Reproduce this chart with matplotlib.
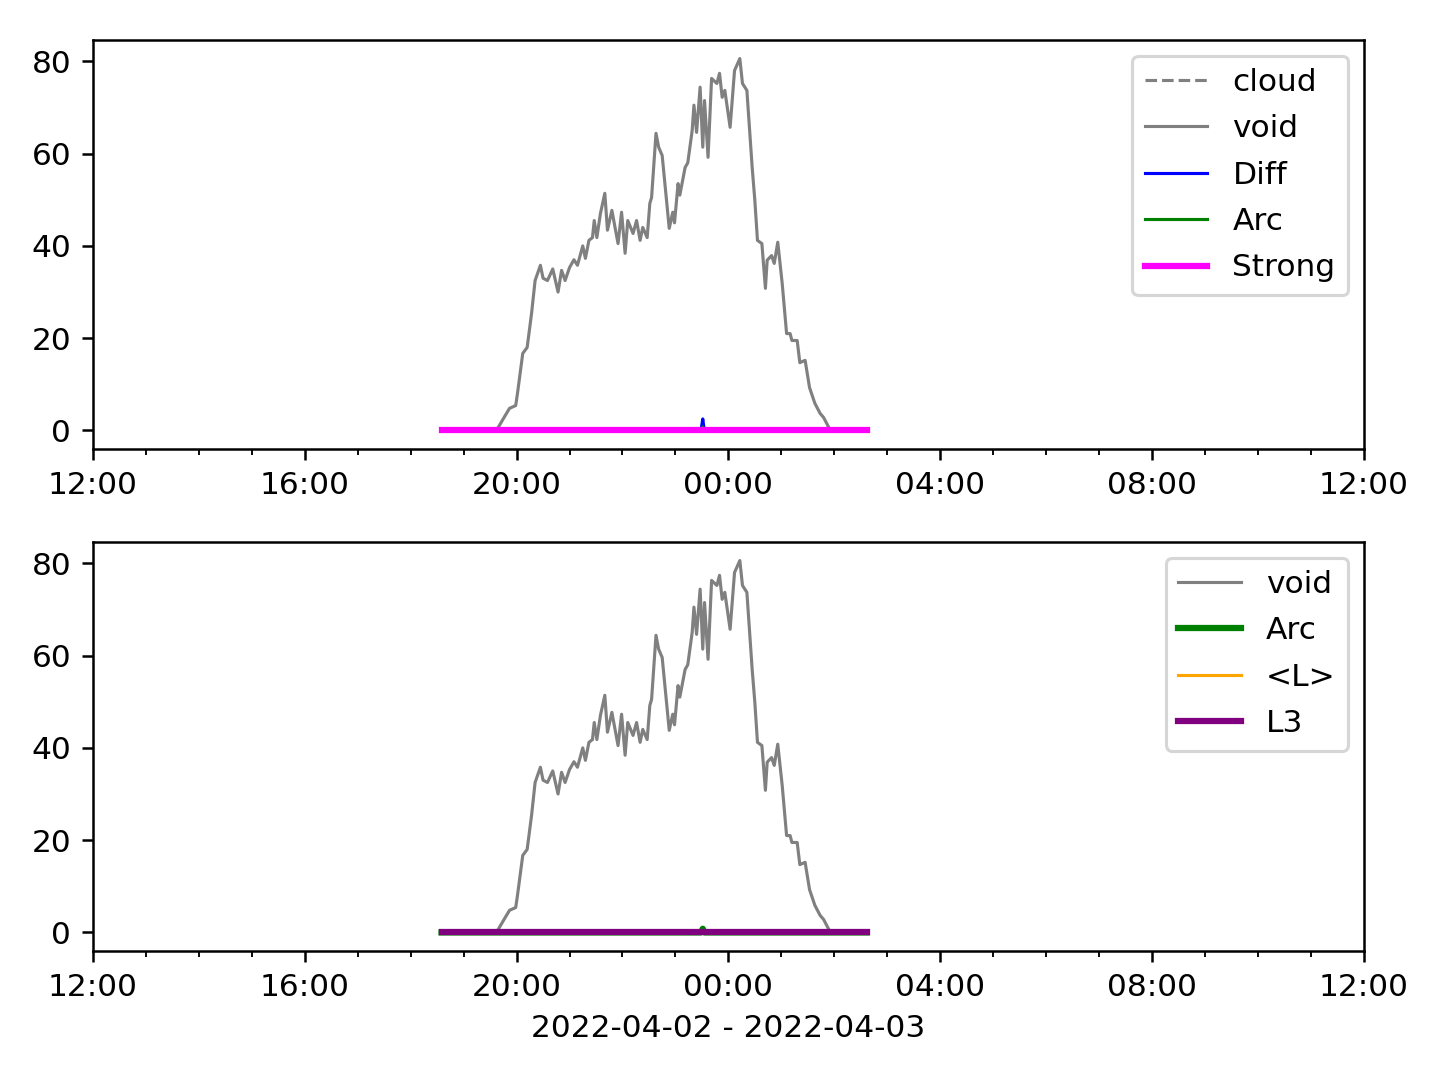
import matplotlib
matplotlib.use("Agg")
import matplotlib.pyplot as plt
import matplotlib.dates as mdates
import pandas as pd

# ---- data ----
void_times = ["2022-04-02 18:35", "2022-04-02 19:38", "2022-04-02 19:39", "2022-04-02 19:47", "2022-04-02 19:52",
              "2022-04-02 19:59", "2022-04-02 20:01", "2022-04-02 20:07", "2022-04-02 20:12", "2022-04-02 20:17",
              "2022-04-02 20:21", "2022-04-02 20:27", "2022-04-02 20:30", "2022-04-02 20:35", "2022-04-02 20:41",
              "2022-04-02 20:47", "2022-04-02 20:51", "2022-04-02 20:55", "2022-04-02 21:00", "2022-04-02 21:05",
              "2022-04-02 21:09", "2022-04-02 21:15", "2022-04-02 21:18", "2022-04-02 21:22", "2022-04-02 21:26",
              "2022-04-02 21:28", "2022-04-02 21:31", "2022-04-02 21:35", "2022-04-02 21:40", "2022-04-02 21:43",
              "2022-04-02 21:48", "2022-04-02 21:55", "2022-04-02 21:59", "2022-04-02 22:03", "2022-04-02 22:06",
              "2022-04-02 22:12", "2022-04-02 22:16", "2022-04-02 22:20", "2022-04-02 22:23", "2022-04-02 22:28",
              "2022-04-02 22:31", "2022-04-02 22:33", "2022-04-02 22:38", "2022-04-02 22:41", "2022-04-02 22:45",
              "2022-04-02 22:53", "2022-04-02 22:57", "2022-04-02 22:59", "2022-04-02 23:03", "2022-04-02 23:05",
              "2022-04-02 23:11", "2022-04-02 23:14", "2022-04-02 23:19", "2022-04-02 23:21", "2022-04-02 23:24",
              "2022-04-02 23:28", "2022-04-02 23:31", "2022-04-02 23:33", "2022-04-02 23:37", "2022-04-02 23:41",
              "2022-04-02 23:47", "2022-04-02 23:50", "2022-04-02 23:53", "2022-04-02 23:56", "2022-04-03 00:02",
              "2022-04-03 00:07", "2022-04-03 00:13", "2022-04-03 00:16", "2022-04-03 00:21", "2022-04-03 00:27",
              "2022-04-03 00:30", "2022-04-03 00:33", "2022-04-03 00:38", "2022-04-03 00:42", "2022-04-03 00:44",
              "2022-04-03 00:49", "2022-04-03 00:52", "2022-04-03 00:56", "2022-04-03 01:01", "2022-04-03 01:06",
              "2022-04-03 01:10", "2022-04-03 01:12", "2022-04-03 01:18", "2022-04-03 01:21", "2022-04-03 01:27",
              "2022-04-03 01:32", "2022-04-03 01:38", "2022-04-03 01:44", "2022-04-03 01:48", "2022-04-03 01:54",
              "2022-04-03 01:56", "2022-04-03 02:37"]
void_vals = [0, 0, 0.6, 3.2, 4.8,
             5.4, 8, 16.7, 18, 25.4,
             32.5, 35.8, 33, 32.5, 35,
             30, 34.7, 32.5, 35.3, 37,
             35.8, 40, 37.3, 41.2, 41.8,
             45.5, 41.8, 47, 51.4, 43.4,
             47.7, 40.5, 47.3, 38.4, 45.5,
             42.7, 45.5, 41.2, 44, 41.8,
             49.2, 50.5, 64.4, 61.4, 59.6,
             43.8, 47.3, 45, 53.5, 51,
             57, 58, 65, 70.5, 64.6,
             74.4, 61.4, 71.5, 59.2, 76.3,
             75.2, 77.4, 72.2, 73.7, 65.7,
             78, 80.6, 75.2, 73.7, 57,
             49.9, 41.2, 40.5, 30.8, 36.9,
             37.9, 36.2, 40.8, 31.9, 21,
             21, 19.5, 19.5, 14.7, 15.2,
             9.3, 5.9, 3.7, 2.8, 0.6,
             0, 0]

flat_times = ["2022-04-02 18:35", "2022-04-03 02:37"]
flat_vals = [0, 0]

diff_times = ["2022-04-02 18:35", "2022-04-02 23:29", "2022-04-02 23:30", "2022-04-02 23:31",
              "2022-04-02 23:32", "2022-04-02 23:33", "2022-04-03 02:37"]
diff_vals = [0, 0, 1.2, 2.5, 1.0, 0, 0]

arc_times = ["2022-04-02 18:35", "2022-04-02 23:29", "2022-04-02 23:31", "2022-04-02 23:33", "2022-04-03 02:37"]
arc_vals = [0, 0, 0.8, 0, 0]

xlim = ["2022-04-02 12:00", "2022-04-03 12:00"]
xlabel = "2022-04-02 - 2022-04-03"

vt = pd.to_datetime(void_times)
ft = pd.to_datetime(flat_times)
dt = pd.to_datetime(diff_times)
at = pd.to_datetime(arc_times)

fig, (ax1, ax2) = plt.subplots(2, 1, figsize=(6.4, 4.8), dpi=225)
fig.subplots_adjust(left=0.0646, right=0.947, top=0.963, bottom=0.1194, hspace=0.227)

ax1.plot(ft, flat_vals, color="gray", ls="--", lw=1, label="cloud")
ax1.plot(vt, void_vals, color="gray", lw=1, label="void")
ax1.plot(dt, diff_vals, color="blue", lw=1, label="Diff")
ax1.plot(at, arc_vals, color="green", lw=1, label="Arc")
ax1.plot(ft, flat_vals, color="magenta", lw=2, label="Strong")
ax1.legend(loc="upper right", labelspacing=0.555)

ax2.plot(vt, void_vals, color="gray", lw=1, label="void")
ax2.plot(at, arc_vals, color="green", lw=2, label="Arc")
ax2.plot(ft, flat_vals, color="orange", lw=1, label="<L>")
ax2.plot(ft, flat_vals, color="purple", lw=2, label="L3")
ax2.legend(loc="upper right", labelspacing=0.555)
ax2.set_xlabel(xlabel)

for ax in (ax1, ax2):
    ax.set_xlim(pd.to_datetime(xlim))
    ax.xaxis.set_major_locator(mdates.HourLocator(byhour=range(0, 24, 4)))
    ax.xaxis.set_minor_locator(mdates.HourLocator())
    ax.xaxis.set_major_formatter(mdates.DateFormatter("%H:%M"))
    ax.set_yticks([0, 20, 40, 60, 80])

fig.savefig("out.png", dpi=225)
